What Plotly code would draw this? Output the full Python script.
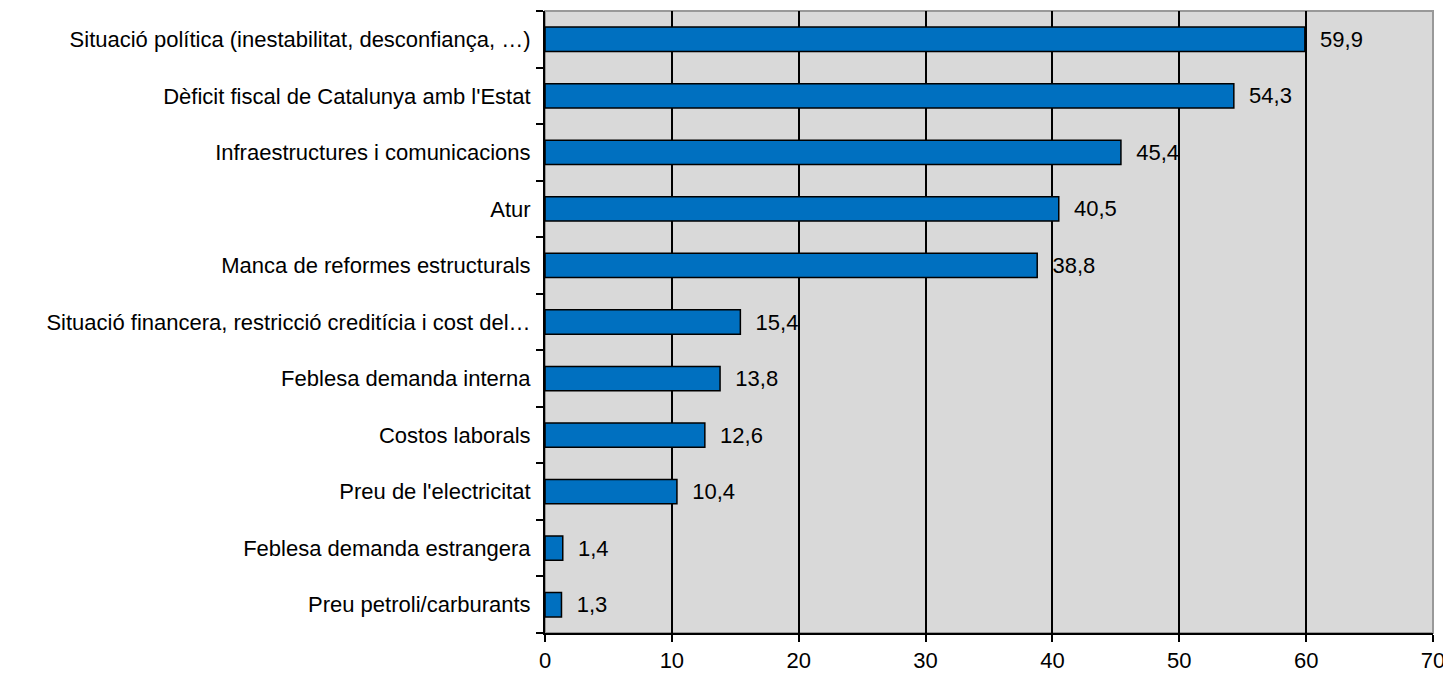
import plotly.graph_objects as go

categories = [
    "Situació política (inestabilitat, desconfiança, …)",
    "Dèficit fiscal de Catalunya amb l'Estat",
    "Infraestructures i comunicacions",
    "Atur",
    "Manca de reformes estructurals",
    "Situació financera, restricció creditícia i cost del…",
    "Feblesa demanda interna",
    "Costos laborals",
    "Preu de l'electricitat",
    "Feblesa demanda estrangera",
    "Preu petroli/carburants",
]
values = [59.9, 54.3, 45.4, 40.5, 38.8, 15.4, 13.8, 12.6, 10.4, 1.4, 1.3]

font_family = "Liberation Sans Narrow, Arial Narrow, Liberation Sans, Arial"

fig = go.Figure(go.Bar(
    x=values[::-1],
    y=categories[::-1],
    orientation="h",
    marker=dict(color="#0070C0", line=dict(color="black", width=1.5)),
    texttemplate="  %{x:.1f}",
    textposition="outside",
    constraintext="none",
    textfont=dict(size=22, color="black", family=font_family),
    cliponaxis=False,
))

# page body has an 8px margin, so the figure is sized and offset for it
fig.update_layout(
    width=1443, height=671,
    margin=dict(l=537, r=18, t=3, b=46),
    paper_bgcolor="white",
    plot_bgcolor="#D9D9D9",
    separators=",.",
    bargap=0.57,
    showlegend=False,
    font=dict(family=font_family, size=22, color="black"),
    shapes=[dict(type="rect", xref="paper", yref="paper", x0=0, x1=1, y0=0, y1=1,
                 line=dict(color="#999999", width=2), layer="below")],
)
fig.update_xaxes(
    range=[0, 70], dtick=10, tick0=0,
    showgrid=True, gridcolor="black", gridwidth=1.5,
    showline=True, linecolor="black", linewidth=2,
    ticks="outside", ticklen=7, tickcolor="black", tickwidth=1.5,
    zeroline=False, automargin=False,
    tickfont=dict(size=22),
)
fig.update_yaxes(
    showgrid=False,
    showline=True, linecolor="black", linewidth=2,
    ticks="outside", ticklen=7, tickcolor="black", tickwidth=1.5,
    tickson="boundaries", automargin=False,
    ticklabelstandoff=8,
    tickfont=dict(size=22),
)

fig.write_html("out.html")
